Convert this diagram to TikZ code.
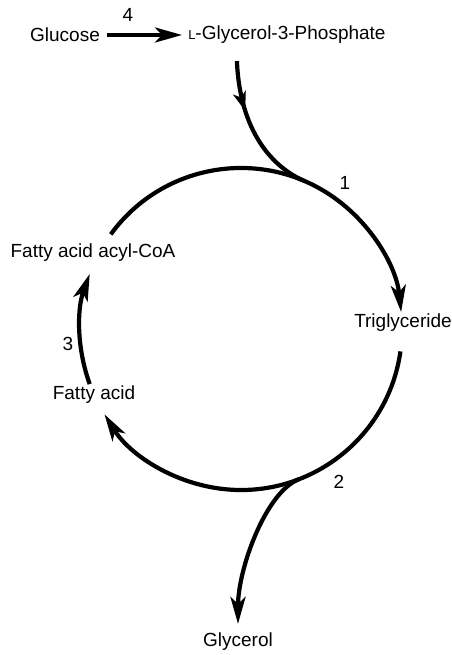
\documentclass[tikz,border=0pt]{standalone}
\usepackage{fontspec}
\setmainfont{Liberation Sans}
\usetikzlibrary{arrows.meta, decorations.markings, positioning}

\begin{document}
\begin{tikzpicture}[x=1pt,y=1pt]

\tikzstyle{metab}=[inner sep=2pt,font=\fontsize{19}{22}\selectfont]
\tikzstyle{stepnum}=[inner sep=1pt,font=\fontsize{19}{22}\selectfont]
\tikzstyle{line}=[draw, line width=4.2pt, -{Stealth[length=27pt,width=15pt,inset=7pt]}]
\tikzstyle{flux}=[draw, line width=4.2pt]
\tikzset{midarrow/.style={postaction={decorate},decoration={markings,
  mark=at position #1 with {\arrow{Stealth[length=19pt,width=13pt,inset=5pt]}}}}}

\useasboundingbox (0,0) rectangle (451,655);

\coordinate (cen) at (241,326);
\def\R{161}
\coordinate (j1) at ([shift={(67:\R)}]cen);
\coordinate (j2) at ([shift={(-69:\R)}]cen);

\node (glucose) [metab] at (65,620) {Glucose};
\node (g3p) [metab,right=84pt of glucose] {{\fontsize{13}{13}\selectfont L}-Glycerol-3-Phosphate};
\node (tg) [metab] at (403,332) {Triglyceride};
\node (acoa) [metab] at (93,402) {Fatty acid acyl-CoA};
\node (fa) [metab] at (94,260) {Fatty acid};
\node (glycerol) [metab] at (238,13) {Glycerol};

\node (n4) [stepnum] at (128,640) {4};
\node (n1) [stepnum] at (345,472) {1};
\node (n2) [stepnum] at (339,173) {2};
\node (n3) [stepnum] at (68,311) {3};

% glucose to glycerol-3-phosphate
\draw[line, shorten <=5pt, shorten >=4pt] (glucose) -- (g3p);

% the cycle
\draw[line] ([shift={(144:\R)}]cen) arc[start angle=144, end angle=6, radius=\R];
\draw[line] ([shift={(-8:\R)}]cen) arc[start angle=-8, end angle=-148, radius=\R];
\draw[line] ([shift={(200:\R)}]cen) arc[start angle=200, end angle=160, radius=\R];

% in and out of the cycle
\draw[flux, midarrow=0.35] ([xshift=-50pt,yshift=-15pt]g3p.south) .. controls +(3,-70) and +(-32,14) .. (j1);
\draw[line] (j2) .. controls +(-33,-13) and +(0,55) .. ([yshift=7pt]glycerol.north);

\end{tikzpicture}
\end{document}
